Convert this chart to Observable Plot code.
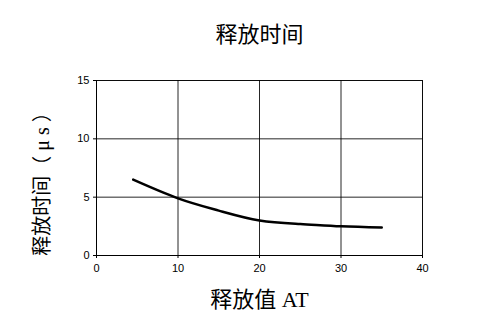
<!DOCTYPE html>
<html>
<head>
<meta charset="utf-8">
<script src="https://cdn.jsdelivr.net/npm/d3@7"></script>
<script src="https://cdn.jsdelivr.net/npm/@observablehq/plot@0.6"></script>
<style>
body { margin: 0; background: #fff; }
</style>
</head>
<body>
<div id="chart"></div>
<script>
const title = "释放时间";
const xLabel = "释放值 AT";
const yLabel = "释放时间（ μ s ）";
const xValues = [4.5, 10, 15, 20, 25, 30, 35];
const yValues = [6.5, 4.9, 3.85, 3.0, 2.7, 2.5, 2.4];
const xTicks = [0, 10, 20, 30, 40];
const yTicks = [0, 5, 10, 15];

const data = xValues.map((x, i) => ({x, y: yValues[i]}));
const serif = "'Liberation Serif', 'Noto Sans CJK SC', serif";

const chart = Plot.plot({
  width: 488,
  height: 330,
  marginTop: 80,
  marginLeft: 96,
  marginRight: 66,
  marginBottom: 75,
  style: {fontFamily: "'Liberation Sans', Arial, sans-serif", fontSize: "11px", color: "#000", background: "#fff"},
  x: {domain: [0, 40], ticks: xTicks, label: null},
  y: {domain: [0, 15], ticks: yTicks, label: null},
  marks: [
    Plot.gridX(xTicks, {stroke: "#000", strokeOpacity: 0.85, strokeWidth: 1}),
    Plot.gridY(yTicks, {stroke: "#000", strokeOpacity: 0.85, strokeWidth: 1}),
    Plot.frame({stroke: "#000", strokeOpacity: 0.7}),
    Plot.ruleY([0], {stroke: "#000"}),
    Plot.ruleX([0], {stroke: "#000"}),
    Plot.axisX({ticks: xTicks, tickSize: 3, tickPadding: 6, label: null}),
    Plot.axisY({ticks: yTicks, tickSize: 3, tickPadding: 4, label: null}),
    Plot.line(data, {x: "x", y: "y", curve: "natural", stroke: "#000", strokeWidth: 2.5}),
    Plot.text([title], {frameAnchor: "top", lineAnchor: "middle", dy: -46, fontFamily: serif, fontSize: 22, fill: "#000"}),
    Plot.text([xLabel], {frameAnchor: "bottom", lineAnchor: "middle", dy: 44, fontFamily: serif, fontSize: 22, fill: "#000"}),
    Plot.text([yLabel], {frameAnchor: "left", textAnchor: "middle", lineAnchor: "middle", dx: -54, dy: 11, rotate: -90, fontFamily: serif, fontSize: 20, fill: "#000"})
  ]
});
document.getElementById("chart").appendChild(chart);
</script>
</body>
</html>
